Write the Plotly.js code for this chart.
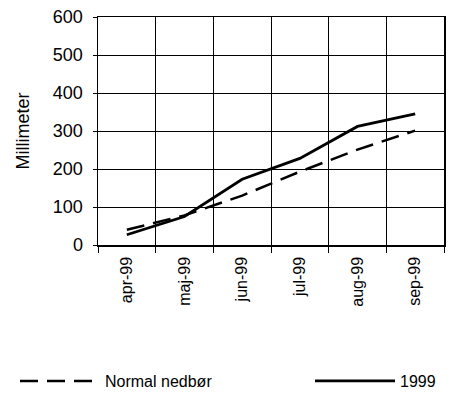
<!DOCTYPE html>
<html>
<head>
<meta charset="utf-8">
<script src="https://cdn.plot.ly/plotly-3.0.1.min.js"></script>
<style>html,body{margin:0;padding:0;background:#fff;}#chart{width:456px;height:394px;}</style>
</head>
<body>
<div id="chart"></div>
<script>
const months = ["apr-99", "maj-99", "jun-99", "jul-99", "aug-99", "sep-99"];
const normalValues = [40, 78, 130, 193, 251, 301];
const values1999 = [27, 75, 173, 228, 312, 345];
const yTicks = [0, 100, 200, 300, 400, 500, 600];

const fam = "Arial, 'Liberation Sans', sans-serif";
const font16 = {family: fam, size: 16, color: "#000"};
const font18 = {family: fam, size: 18, color: "#000"};

const traces = [
  {
    x: months, y: normalValues, name: "Normal nedbør", type: "scatter", mode: "lines",
    line: {color: "#000", width: 2.5, dash: "18px,9px"}, legend: "legend"
  },
  {
    x: months, y: values1999, name: "1999", type: "scatter", mode: "lines",
    line: {color: "#000", width: 2.8}, legend: "legend2"
  }
];

const legendBase = {
  orientation: "h", xref: "container", yref: "container",
  xanchor: "left", yanchor: "middle", y: 0.033,
  itemwidth: 80, font: font16, bgcolor: "rgba(0,0,0,0)"
};

const layout = {
  width: 456, height: 394,
  margin: {l: 98, r: 12, t: 17, b: 149},
  paper_bgcolor: "#fff", plot_bgcolor: "#fff",
  font: font16,
  showlegend: true,
  legend: Object.assign({}, legendBase, {x: 15 / 456}),
  legend2: Object.assign({}, legendBase, {x: 310 / 456}),
  xaxis: {
    type: "category", categoryarray: months, range: [-0.5, 5.5],
    tickson: "boundaries", ticks: "outside", ticklen: 6, tickcolor: "#000", tickwidth: 1,
    showgrid: true, gridcolor: "#000", gridwidth: 1,
    showline: true, linecolor: "#000", linewidth: 1.5, mirror: true,
    tickangle: -90, tickfont: font16, ticklabelstandoff: 4, zeroline: false
  },
  yaxis: {
    range: [0, 600], tickvals: yTicks, ticktext: yTicks.map(String),
    ticks: "outside", ticklen: 4, tickcolor: "#000",
    showgrid: true, gridcolor: "#000", gridwidth: 1,
    showline: true, linecolor: "#000", linewidth: 1.5, mirror: true,
    tickfont: font18, ticklabelstandoff: 6, zeroline: false,
    title: {text: "Millimeter", font: font18, standoff: 18}
  }
};

Plotly.newPlot("chart", traces, layout, {displayModeBar: false, staticPlot: true});
</script>
</body>
</html>
